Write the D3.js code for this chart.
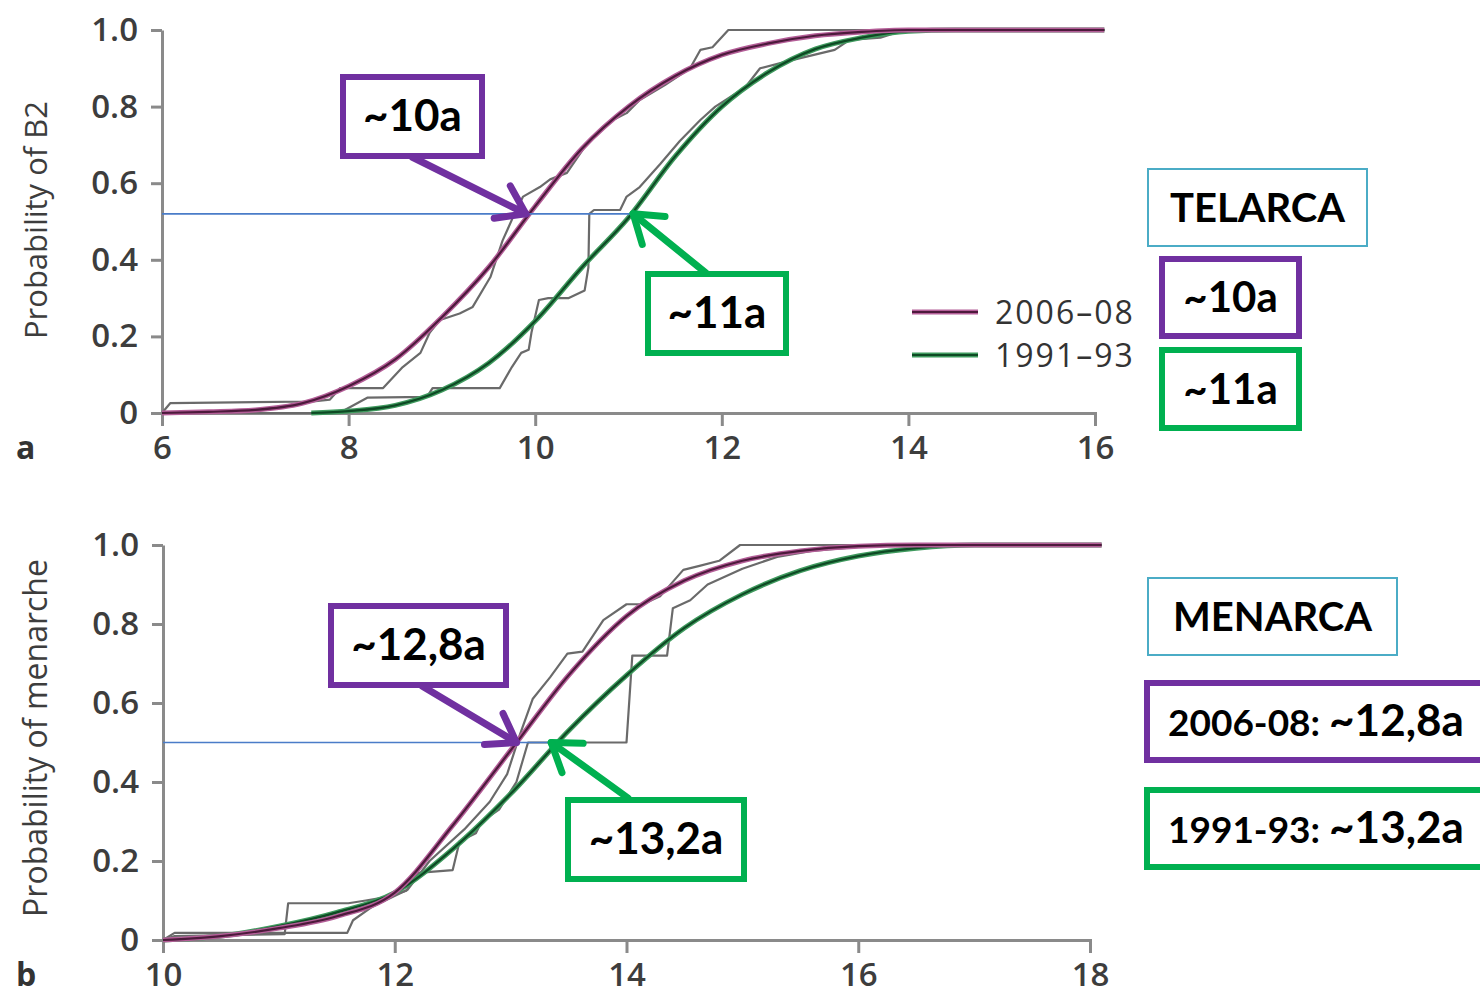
<!DOCTYPE html>
<html>
<head>
<meta charset="utf-8">
<script src="https://cdn.jsdelivr.net/npm/d3@7"></script>
<style>
	body { margin: 0; background: #fff; }
	svg text { font-family: "Open Sans", sans-serif; }
	.box text { font-family: Lato, "Open Sans", sans-serif; font-weight: 700; fill: #000; }
</style>
</head>
<body>
<div id="chart"></div>
<script>
"use strict";

// == DATA ==
var probTicks = [0, 0.2, 0.4, 0.6, 0.8, 1.0];
var b2AgeTicks = [6, 8, 10, 12, 14, 16];
var menAgeTicks = [10, 12, 14, 16, 18];
var seriesNames = ["2006–08", "1991–93"];

// fitted curves, [age, probability]
var b2Fit2006 = [[6, 0], [6.5, 0.003], [7, 0.008], [7.5, 0.025], [8, 0.07], [8.5, 0.14], [9, 0.25], [9.5, 0.38],
	[10, 0.54], [10.5, 0.69], [11, 0.8], [11.5, 0.88], [12, 0.935], [12.5, 0.965], [13, 0.985], [13.5, 0.995], [14, 1], [16.1, 1]];
var b2Fit1991 = [[7.6, 0], [8, 0.005], [8.5, 0.02], [9, 0.06], [9.5, 0.13], [10, 0.24], [10.5, 0.38], [11, 0.51],
	[11.5, 0.67], [12, 0.8], [12.5, 0.89], [13, 0.95], [13.5, 0.98], [14, 0.997], [14.5, 1], [16.1, 1]];

// observed (step) curves
var b2Emp2006 = [[6, 0], [6.09, 0.026], [7.62, 0.03], [7.8, 0.035], [7.91, 0.065], [8.37, 0.065], [8.58, 0.12],
	[8.77, 0.157], [8.87, 0.21], [8.98, 0.243], [9.19, 0.26], [9.33, 0.277], [9.52, 0.355], [9.65, 0.45], [9.76, 0.51],
	[9.87, 0.565], [10.05, 0.59], [10.16, 0.61], [10.34, 0.627], [10.56, 0.705], [10.77, 0.757], [10.98, 0.783],
	[11.12, 0.817], [11.39, 0.856], [11.66, 0.9], [11.77, 0.948], [11.9, 0.955], [12.07, 1], [16.1, 1]];
var b2Emp1991 = [[6, 0], [7.9, 0], [8.2, 0.04], [8.84, 0.042], [8.9, 0.065], [9.62, 0.065], [9.75, 0.12], [9.85, 0.157],
	[9.93, 0.165], [9.96, 0.21], [10.04, 0.295], [10.14, 0.3], [10.36, 0.3], [10.53, 0.32], [10.57, 0.38], [10.58, 0.52],
	[10.63, 0.53], [10.91, 0.53], [10.98, 0.565], [11.01, 0.57], [11.12, 0.59], [11.34, 0.65], [11.55, 0.71],
	[11.77, 0.765], [11.93, 0.8], [12.25, 0.85], [12.41, 0.9], [12.73, 0.92], [13.21, 0.948], [13.37, 0.974],
	[13.7, 0.98], [13.96, 1], [16.1, 1]];

var menFit2006 = [[10, 0], [10.5, 0.01], [11, 0.03], [11.5, 0.06], [12, 0.12], [12.5, 0.29], [13, 0.48], [13.5, 0.67],
	[14, 0.82], [14.5, 0.91], [15, 0.96], [15.5, 0.985], [16, 0.997], [16.5, 1], [18.1, 1]];
var menFit1991 = [[10, 0], [10.5, 0.01], [11, 0.035], [11.5, 0.07], [12, 0.12], [12.5, 0.23], [13, 0.37], [13.5, 0.53],
	[14, 0.67], [14.5, 0.79], [15, 0.875], [15.5, 0.935], [16, 0.972], [16.5, 0.992], [17, 1], [18.1, 1]];

var menEmp2006 = [[10, 0], [10.1, 0.018], [11.59, 0.018], [11.64, 0.05], [11.81, 0.085], [12.11, 0.127], [12.3, 0.2],
	[12.6, 0.28], [12.82, 0.35], [12.97, 0.42], [13.08, 0.52], [13.19, 0.61], [13.34, 0.665], [13.49, 0.725],
	[13.62, 0.73], [13.8, 0.81], [14, 0.85], [14.14, 0.85], [14.29, 0.87], [14.49, 0.937], [14.63, 0.947],
	[14.8, 0.96], [14.98, 1], [18.1, 1]];
var menEmp1991 = [[10, 0], [10.1, 0.01], [11.05, 0.015], [11.08, 0.093], [11.6, 0.093], [11.75, 0.1], [11.95, 0.11],
	[12.1, 0.125], [12.2, 0.17], [12.5, 0.177], [12.56, 0.25], [12.7, 0.27], [12.75, 0.3], [12.9, 0.33], [13.05, 0.4],
	[13.1, 0.45], [13.15, 0.5], [14, 0.5], [14.05, 0.72], [14.35, 0.72], [14.4, 0.84], [14.55, 0.86], [14.7, 0.9],
	[15, 0.94], [15.3, 0.97], [15.6, 0.985], [16, 0.995], [16.5, 1], [18.1, 1]];

// where the blue guide line sits and where the arrows point
var b2RefLevel = 0.52, b2Medians = [9.9, 11.05], b2Labels = ["~10a", "~11a"];
var menRefLevel = 0.5, menMedians = [13.05, 13.35], menLabels = ["~12,8a", "~13,2a"];

// == DRAWING ==
var W = 1480, H = 996;
var PURPLE = "#7030A0", GREEN = "#00B050", TEAL = "#4BACC6";
var fitColors = [
	{ under: "#b45e98", over: "#4d1a3c" },
	{ under: "#3f9a5e", over: "#0e4a24" }
];

var svg = d3.select("#chart").append("svg")
	.attr("width", W)
	.attr("height", H);

var panels = [
	{
		letter: "a", title: "Probability of B2", titleSize: 31, ageTicks: b2AgeTicks,
		xRange: [162, 1095], yRange: [413, 30], titleY: 220,
		fits: [b2Fit2006, b2Fit1991], steps: [b2Emp2006, b2Emp1991],
		ref: b2RefLevel, medians: b2Medians, labels: b2Labels
	},
	{
		letter: "b", title: "Probability of menarche", titleSize: 32, ageTicks: menAgeTicks,
		xRange: [163, 1090], yRange: [940, 545], titleY: 738,
		fits: [menFit2006, menFit1991], steps: [menEmp2006, menEmp1991],
		ref: menRefLevel, medians: menMedians, labels: menLabels
	}
];

panels.forEach(function (p) {
	var ages = p.ageTicks;
	p.x = d3.scaleLinear().domain([ages[0], ages[ages.length - 1]]).range(p.xRange);
	p.y = d3.scaleLinear().domain([0, 1]).range(p.yRange);

	var g = svg.append("g");

	// axes
	var yAxis = d3.axisLeft(p.y).tickValues(probTicks).tickSize(11).tickSizeOuter(0).tickPadding(13)
		.tickFormat(function (d) { return d === 0 ? "0" : d.toFixed(1); });
	var xAxis = d3.axisBottom(p.x).tickValues(ages).tickSize(13).tickSizeOuter(13).tickPadding(10)
		.tickFormat(d3.format("d"));

	var ya = g.append("g").attr("transform", "translate(" + p.xRange[0] + ",0)").call(yAxis);
	var xa = g.append("g").attr("transform", "translate(0," + p.yRange[0] + ")").call(xAxis);

	[ya, xa].forEach(function (a) {
		a.selectAll("path, line").attr("stroke", "#8a8a8a").attr("stroke-width", 3);
		a.selectAll("text")
			.attr("fill", "#3d3d3d")
			.style("font-size", "33px")
			.style("font-weight", 600)
			.style("font-family", "'Open Sans', sans-serif");
	});

	g.append("text")
		.attr("transform", "translate(47," + p.titleY + ") rotate(-90)")
		.attr("text-anchor", "middle")
		.attr("fill", "#3d3d3d")
		.style("font-size", p.titleSize + "px")
		.text(p.title);

	g.append("text")
		.attr("x", 16)
		.attr("y", p.yRange[0] + 46)
		.attr("fill", "#333")
		.style("font-size", "32px")
		.style("font-weight", 700)
		.text(p.letter);

	var line = d3.line()
		.x(function (d) { return p.x(d[0]); })
		.y(function (d) { return p.y(d[1]); });

	// observed steps (gray)
	p.steps.forEach(function (s) {
		g.append("path").datum(s)
			.attr("d", line)
			.attr("fill", "none")
			.attr("stroke", "#6a6a6a")
			.attr("stroke-width", 2.2)
			.attr("stroke-linejoin", "round");
	});

	// fitted curves
	var smooth = d3.line()
		.x(function (d) { return p.x(d[0]); })
		.y(function (d) { return p.y(d[1]); })
		.curve(d3.curveMonotoneX);

	// green first so purple is on top
	[1, 0].forEach(function (i) {
		g.append("path").datum(p.fits[i])
			.attr("d", smooth).attr("fill", "none")
			.attr("stroke", fitColors[i].under).attr("stroke-width", 5);
		g.append("path").datum(p.fits[i])
			.attr("d", smooth).attr("fill", "none")
			.attr("stroke", fitColors[i].over).attr("stroke-width", 2.2);
	});

	// blue guide line at the median level
	g.append("line")
		.attr("x1", p.x(ages[0]))
		.attr("x2", p.x(p.medians[1]))
		.attr("y1", p.y(p.ref))
		.attr("y2", p.y(p.ref))
		.attr("stroke", "#4a7cc8")
		.attr("stroke-width", 1.6);
});

// legend (top panel only)
var legend = svg.append("g");
seriesNames.forEach(function (name, i) {
	var ly = 312 + i * 43;
	legend.append("line").attr("x1", 912).attr("x2", 978).attr("y1", ly).attr("y2", ly)
		.attr("stroke", fitColors[i].under).attr("stroke-width", 5);
	legend.append("line").attr("x1", 912).attr("x2", 978).attr("y1", ly).attr("y2", ly)
		.attr("stroke", fitColors[i].over).attr("stroke-width", 2.2);
	legend.append("text")
		.attr("x", 995).attr("y", ly + 12)
		.attr("fill", "#333")
		.style("font-size", "32px")
		.style("letter-spacing", "2px")
		.style("font-weight", 500)
		.text(name);
});

// annotation boxes
function box(x, y, w, h, color, sw, parts, textX) {
	var b = svg.append("g").attr("class", "box");
	b.append("rect")
		.attr("x", x).attr("y", y).attr("width", w).attr("height", h)
		.attr("fill", "#fff").attr("stroke", color).attr("stroke-width", sw);
	var t = b.append("text")
		.attr("x", textX == null ? x + w / 2 : textX)
		.attr("y", y + h / 2 + 9)
		.attr("dy", "0.36em")
		.attr("text-anchor", textX == null ? "middle" : "start");
	parts.forEach(function (pt) {
		t.append("tspan").style("font-size", pt[1] + "px").text(pt[0]);
	});
}

function arrow(x1, y1, x2, y2, color) {
	var a = Math.atan2(y2 - y1, x2 - x1), len = 32, spread = 0.6;
	var g = svg.append("g")
		.attr("stroke", color).attr("stroke-width", 7).attr("stroke-linecap", "round").attr("fill", "none");
	g.append("line").attr("x1", x1).attr("y1", y1).attr("x2", x2 - 3 * Math.cos(a)).attr("y2", y2 - 3 * Math.sin(a));
	[-spread, spread].forEach(function (s) {
		g.append("line")
			.attr("x1", x2).attr("y1", y2)
			.attr("x2", x2 - len * Math.cos(a + s))
			.attr("y2", y2 - len * Math.sin(a + s));
	});
}

var pTop = panels[0], pBot = panels[1];

arrow(412, 157, pTop.x(pTop.medians[0]), pTop.y(pTop.ref), PURPLE);
arrow(706, 273, pTop.x(pTop.medians[1]), pTop.y(pTop.ref), GREEN);
arrow(422, 686, pBot.x(pBot.medians[0]), pBot.y(pBot.ref), PURPLE);
arrow(628, 798, pBot.x(pBot.medians[1]), pBot.y(pBot.ref), GREEN);

box(343, 77, 139, 79, PURPLE, 6, [[pTop.labels[0], 44]]);
box(648, 274, 138, 79, GREEN, 6, [[pTop.labels[1], 44]]);
box(331, 606, 175, 79, PURPLE, 6, [[pBot.labels[0], 44]]);
box(568, 800, 176, 79, GREEN, 6, [[pBot.labels[1], 44]]);

box(1148, 169, 219, 77, TEAL, 2, [["TELARCA", 40]]);
box(1162, 259, 137, 77, PURPLE, 6, [[pTop.labels[0], 42]]);
box(1162, 350, 137, 78, GREEN, 6, [[pTop.labels[1], 42]]);

box(1148, 578, 249, 77, TEAL, 2, [["MENARCA", 40]]);
box(1147, 683, 360, 77, PURPLE, 6, [["2006-08: ", 37], [pBot.labels[0], 44]], 1168);
box(1147, 790, 360, 77, GREEN, 6, [["1991-93: ", 37], [pBot.labels[1], 44]], 1168);
</script>
</body>
</html>
